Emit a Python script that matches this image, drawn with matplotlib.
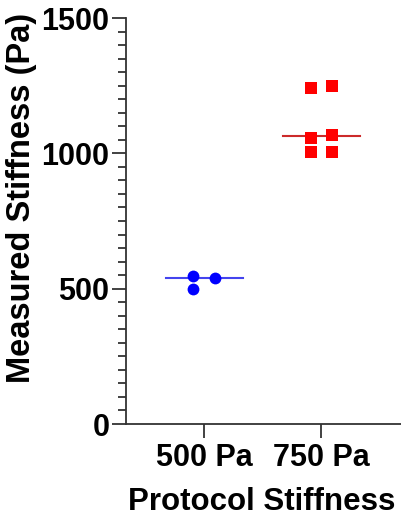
import matplotlib
matplotlib.use("Agg")
import matplotlib.pyplot as plt
import numpy as np
from matplotlib.ticker import MultipleLocator

plt.rcParams['font.family'] = ['Liberation Sans', 'DejaVu Sans']
plt.rcParams['font.weight'] = 'bold'

categories = ["500 Pa", "750 Pa"]
vals_500 = [545, 497, 538]
vals_750 = [1242, 1250, 1058, 1069, 1006, 1006]
colors = ["#0000ff", "#ff0000"]
line_colors = ["#4444ee", "#cc2a2a"]
markers = ["o", "s"]
xlabel = "Protocol Stiffness"
ylabel = "Measured Stiffness (Pa)"

W, H = 401, 518
fig = plt.figure(figsize=(W/100, H/100), dpi=100)
ax = fig.add_axes([126/W, 1-424/H, 1.0 - 126/W + 0.01, (424-18)/H])
AW = (1.0 - 126/W + 0.01) * W
AH = 424 - 18

groups = [vals_500, vals_750]
for i, (vals, c, lc, m) in enumerate(zip(groups, colors, line_colors, markers)):
    vals = np.asarray(vals, dtype=float)
    # alternate left/right jitter as in the scatter-dot plot
    if i == 0:
        off = np.array([-0.095, -0.095, 0.095])
    else:
        off = np.array([-0.09, 0.09] * (len(vals)//2))
    med = np.median(vals)
    ax.plot([i-0.33, i+0.33], [med, med], color=lc, lw=1.5, zorder=2)
    ax.scatter(i+off, vals, color=c, marker=m, s=(8.5 if m == "o" else 8)**2,
               linewidths=0, zorder=3)

ax.set_xlim(-0.672, 1.72)
ax.set_ylim(0, 1500)
ax.set_xticks([0, 1])
ax.set_xticklabels(categories, fontsize=22, fontweight='bold')
ax.set_yticks([0, 500, 1000, 1500])
ax.yaxis.set_minor_locator(MultipleLocator(50))
ax.tick_params(axis='y', which='major', length=10, width=1.3, labelsize=22, pad=2, color='#333333')
ax.tick_params(axis='y', which='minor', length=6, width=1.3, color='#333333')
ax.tick_params(axis='x', which='major', length=10, width=1.3, labelsize=22, pad=4, color='#333333')
for lab in ax.get_yticklabels():
    lab.set_fontweight('bold')
ax.spines['top'].set_visible(False)
ax.spines['right'].set_visible(False)
for s in ['left', 'bottom']:
    ax.spines[s].set_linewidth(1.3)
    ax.spines[s].set_color('#333333')

ax.set_xlabel(xlabel, fontsize=22.5, fontweight='bold')
ax.set_ylabel(ylabel, fontsize=23.5, fontweight='bold')
ax.yaxis.set_label_coords(-(126-37)/AW, (424-198)/AH)
ax.xaxis.set_label_coords((262-126)/AW, -(487-424)/AH)

fig.savefig("out.png", dpi=100)
